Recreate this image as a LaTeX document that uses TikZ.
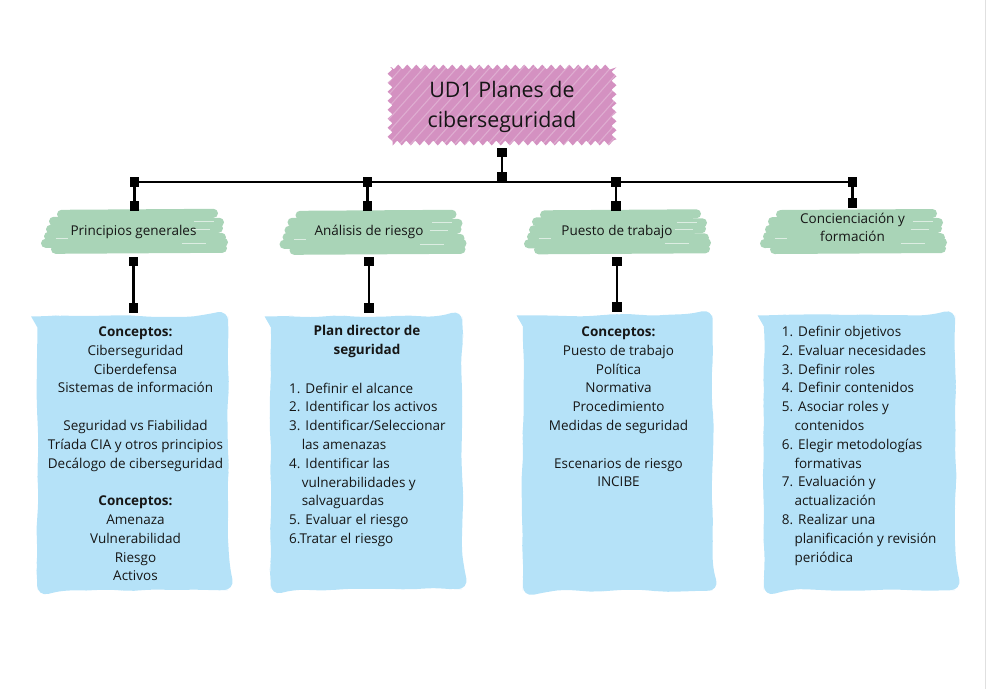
\documentclass[tikz,border=0pt]{standalone}
\usepackage{fontspec}
\setmainfont{Open Sans}
\usetikzlibrary{arrows.meta,decorations.pathmorphing,backgrounds,calc}
\definecolor{rootpink}{RGB}{212,145,193}
\definecolor{catgreen}{RGB}{169,212,183}
\definecolor{boxblue}{RGB}{181,226,248}
\definecolor{ink}{RGB}{22,22,22}
\newcommand\itm[1]{\makebox[16.3pt][l]{#1}}
\newcommand\cont{\hspace*{12.6pt}}
\begin{document}
\begin{tikzpicture}[x=1pt,y=-1pt,
  body/.style={font=\fontsize{13.5}{18.8}\selectfont, text=ink, inner sep=0pt},
  rootnode/.style={font=\fontsize{21.4}{30}\selectfont, text=ink, inner sep=0pt, align=center, minimum width=228pt, minimum height=82pt},
  catnode/.style={body, align=center, minimum width=188pt, minimum height=43pt},
  boxnode/.style={inner sep=0pt},
  sqtip/.tip={Square[length=9.5pt,width=9.5pt,line width=0pt]},
  conn/.style={line width=2.4pt, draw=black, sqtip-sqtip},
  bus/.style={line width=2.4pt, draw=black},
  gstroke/.style={line width=9pt, line cap=round, draw=catgreen},
  ghl/.style={line width=0.6pt, draw=white, opacity=0.6},
  brushpic/.pic={
    \draw[gstroke] (-72,-17) -- (80,-18);
    \draw[gstroke] (-80,-10) -- (86,-9);
    \draw[gstroke] (-83,-2) -- (85,-3);
    \draw[gstroke] (-85,5) -- (88,6);
    \draw[gstroke] (-88,12) -- (90,11);
    \draw[gstroke] (-78,18) -- (89,17);
    \draw[ghl] (60,-10) -- (80,-10);
    \draw[ghl] (58,-2.5) -- (76,-2.5);
    \draw[ghl] (-78,6.5) -- (-66,6.5);
    \draw[ghl] (48,11.5) -- (72,11.5);
  }
]
\useasboundingbox (0,0) rectangle (987,689);
\pgfmathsetseed{11}

% ---------- nodes ----------
\node[rootnode] (root) at (502,106.5) {UD1 Planes de\\ciberseguridad};

\node[catnode] (cat1) at (133.5,232.3) {Principios generales};
\node[catnode] (cat2) at (369,232.3) {Análisis de riesgo};
\node[catnode] (cat3) at (617,232.3) {Puesto de trabajo};
\node[catnode, align=center, font=\fontsize{13.5}{18}\selectfont] (cat4) at (852.5,227) {Concienciación y\\formación};

\node[boxnode, minimum width=190.5pt, minimum height=273.5pt] (box1) at (132.75,453.25) {};
\node[boxnode, minimum width=191pt, minimum height=272.5pt] (box2) at (366.5,452.75) {};
\node[boxnode, minimum width=189.5pt, minimum height=275pt] (box3) at (617.75,453) {};
\node[boxnode, minimum width=191pt, minimum height=274.5pt] (box4) at (859.5,452.75) {};

% texts inside boxes
\node[body, align=center, anchor=north] (t1) at (135.5,326.5) {\textbf{Conceptos:}\\Ciberseguridad\\Ciberdefensa\\Sistemas de información\\\mbox{}\\Seguridad vs Fiabilidad\\Tríada CIA y otros principios\\Decálogo de ciberseguridad\\\mbox{}\\\textbf{Conceptos:}\\Amenaza\\Vulnerabilidad\\Riesgo\\Activos};

\node[body, align=center, anchor=north] (t2a) at (367,325.5) {\textbf{Plan director de}\\\textbf{seguridad}};
\node[body, align=left, anchor=north west] (t2b) at (289,382.5) {\itm{1.}Definir el alcance\\\itm{2.}Identificar los activos\\\itm{3.}Identificar/Seleccionar\\\cont las amenazas\\\itm{4.}Identificar las\\\cont vulnerabilidades y\\\cont salvaguardas\\\itm{5.}Evaluar el riesgo\\6.Tratar el riesgo};

\node[body, align=center, anchor=north] (t3) at (618.5,326.5) {\textbf{Conceptos:}\\Puesto de trabajo\\Política\\Normativa\\Procedimiento\\Medidas de seguridad\\\mbox{}\\Escenarios de riesgo\\INCIBE};

\node[body, align=left, anchor=north west] (t4) at (781.7,326) {\itm{1.}Definir objetivos\\\itm{2.}Evaluar necesidades\\\itm{3.}Definir roles\\\itm{4.}Definir contenidos\\\itm{5.}Asociar roles y\\\cont contenidos\\\itm{6.}Elegir metodologías\\\cont formativas\\\itm{7.}Evaluación y\\\cont actualización\\\itm{8.}Realizar una\\\cont planificación y revisión\\\cont periódica};

% ---------- connector coordinates ----------
\coordinate (hub) at (502,181.7);
\coordinate (busL) at (134.5,181.7);
\coordinate (busR) at (852.5,181.7);
\coordinate (j1) at (134.5,177);
\coordinate (j2) at (367.5,177);
\coordinate (j3) at (616,177);
\coordinate (j4) at (852.5,177);

% ---------- connectors ----------
\draw[bus] (busL) -- (busR);
\draw[conn] (root.south) -- (hub);
\draw[conn] (j1) -- (j1 |- cat1.north);
\draw[conn] (j2) -- (j2 |- cat2.north);
\draw[conn] (j3) -- (j3 |- cat3.north);
\draw[conn, shorten >=2pt] (j4) -- ($(j4 |- cat4.north)+(0,4.5)$);
\draw[conn, shorten <=2.5pt, shorten >=3.5pt] (cat1.south) -- (cat1.south |- box1.north);
\draw[conn, shorten <=2.5pt, shorten >=3.5pt] (cat2.south) -- (cat2.south |- box2.north);
\draw[conn, shorten <=2.5pt, shorten >=3.5pt] (cat3.south) -- (cat3.south |- box3.north);

% ---------- backgrounds ----------
\begin{pgfonlayer}{background}
  % root scribble
  \path[fill=rootpink, decorate, decoration={zigzag, segment length=9pt, amplitude=2.5pt}]
    (390,67) rectangle (614,143);
  \begin{scope}
    \clip (386,63) rectangle (618,147);
    \foreach \i in {-90,-79,...,240} {
      \draw[white, line width=1.1pt, opacity=0.25] (388+\i,147) -- ++(75,-84);
    }
  \end{scope}
  % category brush strokes
  \pic at ($(cat1.center)+(0,-1)$) {brushpic};
  \pic at ($(cat2.center)+(3,0)$) {brushpic};
  \pic at ($(cat3.center)+(-0.5,-0.5)$) {brushpic};
  \pic at ($(cat4.center)+(0,4.5)$) {brushpic};
  % blue boxes
  \foreach \b in {box1,box2,box3,box4} {
    \fill[boxblue, decorate, decoration={random steps, segment length=16pt, amplitude=1.3pt}, rounded corners=11pt]
      (\b.north west) rectangle (\b.south east);
  }
  % faint right edge line
  \draw[black!12, line width=1.2pt] (985.5,0) -- (985.5,689);
\end{pgfonlayer}
\end{tikzpicture}
\end{document}
